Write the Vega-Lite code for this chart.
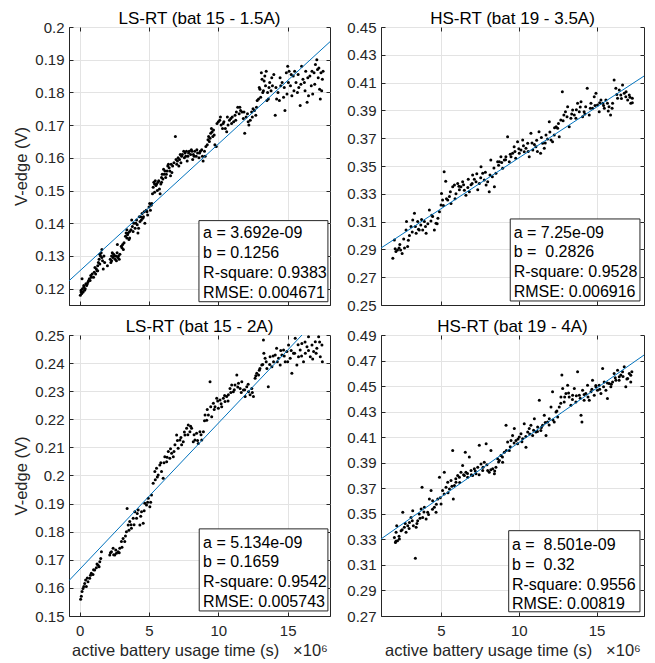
{
"$schema": "https://vega.github.io/schema/vega-lite/v6.json",
"padding": {"left": 13, "top": 9, "right": 8, "bottom": 1},
"config": {
  "font": "Liberation Sans",
  "view": {"stroke": "#262626", "strokeWidth": 1},
  "axis": {"domainColor": "#262626", "tickColor": "#262626", "labelColor": "#262626", "titleColor": "#262626", "labelFontSize": 15, "titleFontSize": 16.5, "titleFontWeight": "normal", "gridColor": "#e3e3e3", "tickSize": -4, "labelPadding": 9, "labelFlush": false, "labelOverlap": false},
  "axisX": {"labelPadding": 11, "titlePadding": 4},
  "axisY": {"titlePadding": 5},
  "title": {"fontSize": 17, "fontWeight": "normal", "color": "#000000"},
  "text": {"font": "Liberation Sans"}
},
"datasets": {
  "tl": [{"x":0.05,"y":0.118},{"x":0.1,"y":0.119},{"x":0.15,"y":0.1185},{"x":0.2,"y":0.12},{"x":0.25,"y":0.119},{"x":0.3,"y":0.121},{"x":0.35,"y":0.1195},{"x":0.4,"y":0.12},{"x":0.17,"y":0.123},{"x":0.5,"y":0.121},{"x":0.55,"y":0.1215},{"x":0.6,"y":0.122},{"x":0.7,"y":0.123},{"x":0.75,"y":0.1225},{"x":0.8,"y":0.124},{"x":0.9,"y":0.1245},{"x":1.0,"y":0.1235},{"x":1.05,"y":0.125},{"x":1.1,"y":0.1265},{"x":1.2,"y":0.126},{"x":1.25,"y":0.1255},{"x":1.3,"y":0.127},{"x":1.35,"y":0.128},{"x":1.4,"y":0.129},{"x":1.45,"y":0.1275},{"x":1.5,"y":0.13},{"x":1.55,"y":0.131},{"x":1.6,"y":0.132},{"x":1.65,"y":0.1285},{"x":1.7,"y":0.126},{"x":1.75,"y":0.13},{"x":1.8,"y":0.128},{"x":2.0,"y":0.127},{"x":2.2,"y":0.129},{"x":2.25,"y":0.128},{"x":2.3,"y":0.13},{"x":2.35,"y":0.131},{"x":2.4,"y":0.1295},{"x":2.5,"y":0.13},{"x":2.55,"y":0.129},{"x":2.6,"y":0.13},{"x":2.7,"y":0.131},{"x":2.75,"y":0.1295},{"x":2.8,"y":0.13},{"x":2.85,"y":0.129},{"x":2.72,"y":0.1335},{"x":3.0,"y":0.133},{"x":3.05,"y":0.1325},{"x":3.1,"y":0.1335},{"x":3.2,"y":0.134},{"x":3.3,"y":0.136},{"x":3.35,"y":0.137},{"x":3.4,"y":0.138},{"x":3.45,"y":0.1365},{"x":3.5,"y":0.137},{"x":3.55,"y":0.135},{"x":3.6,"y":0.1355},{"x":3.7,"y":0.138},{"x":3.75,"y":0.141},{"x":3.8,"y":0.139},{"x":3.9,"y":0.14},{"x":4.0,"y":0.1385},{"x":4.05,"y":0.14},{"x":4.1,"y":0.141},{"x":4.2,"y":0.137},{"x":4.25,"y":0.1385},{"x":4.3,"y":0.142},{"x":4.4,"y":0.142},{"x":4.45,"y":0.141},{"x":4.5,"y":0.143},{"x":4.55,"y":0.1415},{"x":4.6,"y":0.142},{"x":4.7,"y":0.14},{"x":4.8,"y":0.144},{"x":4.9,"y":0.1425},{"x":5.0,"y":0.145},{"x":5.05,"y":0.146},{"x":5.1,"y":0.144},{"x":5.2,"y":0.146},{"x":5.25,"y":0.149},{"x":5.3,"y":0.151},{"x":5.35,"y":0.1525},{"x":5.4,"y":0.152},{"x":5.45,"y":0.153},{"x":5.5,"y":0.1515},{"x":5.55,"y":0.152},{"x":5.6,"y":0.15},{"x":5.7,"y":0.153},{"x":5.75,"y":0.1505},{"x":5.8,"y":0.149},{"x":5.85,"y":0.152},{"x":5.9,"y":0.154},{"x":5.95,"y":0.155},{"x":6.0,"y":0.1535},{"x":6.1,"y":0.155},{"x":6.15,"y":0.156},{"x":6.2,"y":0.154},{"x":6.3,"y":0.156},{"x":6.4,"y":0.158},{"x":6.45,"y":0.157},{"x":6.5,"y":0.156},{"x":6.55,"y":0.1545},{"x":6.6,"y":0.158},{"x":6.7,"y":0.1575},{"x":6.8,"y":0.1585},{"x":6.9,"y":0.1665},{"x":7.0,"y":0.158},{"x":7.05,"y":0.159},{"x":7.1,"y":0.16},{"x":7.2,"y":0.1595},{"x":7.25,"y":0.161},{"x":7.3,"y":0.1585},{"x":7.4,"y":0.161},{"x":7.5,"y":0.162},{"x":7.55,"y":0.16},{"x":7.6,"y":0.1615},{"x":7.7,"y":0.162},{"x":7.75,"y":0.159},{"x":7.8,"y":0.1605},{"x":7.9,"y":0.162},{"x":8.0,"y":0.161},{"x":8.1,"y":0.162},{"x":8.15,"y":0.1595},{"x":8.2,"y":0.161},{"x":8.3,"y":0.162},{"x":8.4,"y":0.1605},{"x":8.5,"y":0.1615},{"x":8.6,"y":0.16},{"x":8.7,"y":0.162},{"x":8.8,"y":0.1625},{"x":8.9,"y":0.159},{"x":9.0,"y":0.162},{"x":9.1,"y":0.1635},{"x":9.2,"y":0.164},{"x":9.3,"y":0.1665},{"x":9.35,"y":0.165},{"x":9.4,"y":0.166},{"x":9.5,"y":0.169},{"x":9.55,"y":0.168},{"x":9.6,"y":0.1665},{"x":9.7,"y":0.167},{"x":9.75,"y":0.164},{"x":9.85,"y":0.1635},{"x":10.0,"y":0.171},{"x":10.1,"y":0.1715},{"x":10.2,"y":0.17},{"x":10.3,"y":0.169},{"x":10.4,"y":0.171},{"x":10.5,"y":0.169},{"x":10.6,"y":0.168},{"x":10.7,"y":0.17},{"x":10.8,"y":0.1715},{"x":10.9,"y":0.172},{"x":11.0,"y":0.1725},{"x":11.1,"y":0.171},{"x":11.2,"y":0.173},{"x":11.3,"y":0.174},{"x":11.4,"y":0.1755},{"x":11.5,"y":0.1735},{"x":11.6,"y":0.1745},{"x":11.7,"y":0.174},{"x":11.8,"y":0.172},{"x":11.9,"y":0.1675},{"x":12.0,"y":0.1725},{"x":12.1,"y":0.1735},{"x":12.2,"y":0.17},{"x":12.3,"y":0.1715},{"x":12.4,"y":0.174},{"x":12.5,"y":0.175},{"x":12.6,"y":0.1745},{"x":12.7,"y":0.173},{"x":12.8,"y":0.1775},{"x":12.9,"y":0.178},{"x":13.0,"y":0.181},{"x":13.05,"y":0.1785},{"x":13.1,"y":0.186},{"x":13.15,"y":0.184},{"x":13.2,"y":0.18},{"x":13.3,"y":0.1835},{"x":13.35,"y":0.185},{"x":13.4,"y":0.182},{"x":13.5,"y":0.1775},{"x":13.55,"y":0.18},{"x":13.6,"y":0.178},{"x":13.7,"y":0.183},{"x":13.8,"y":0.1805},{"x":13.9,"y":0.182},{"x":14.0,"y":0.1855},{"x":14.1,"y":0.173},{"x":14.2,"y":0.178},{"x":14.3,"y":0.18},{"x":14.4,"y":0.1775},{"x":14.5,"y":0.182},{"x":14.6,"y":0.183},{"x":14.7,"y":0.1785},{"x":14.8,"y":0.1745},{"x":14.9,"y":0.186},{"x":15.0,"y":0.188},{"x":15.05,"y":0.183},{"x":15.1,"y":0.1865},{"x":15.2,"y":0.182},{"x":15.3,"y":0.179},{"x":15.4,"y":0.185},{"x":15.5,"y":0.1865},{"x":15.6,"y":0.183},{"x":15.7,"y":0.18},{"x":15.8,"y":0.1815},{"x":15.9,"y":0.176},{"x":16.0,"y":0.188},{"x":16.1,"y":0.184},{"x":16.2,"y":0.183},{"x":16.3,"y":0.1865},{"x":16.4,"y":0.177},{"x":16.5,"y":0.179},{"x":16.6,"y":0.185},{"x":16.7,"y":0.182},{"x":16.8,"y":0.1795},{"x":16.9,"y":0.186},{"x":17.0,"y":0.1885},{"x":17.1,"y":0.19},{"x":17.15,"y":0.187},{"x":17.2,"y":0.1845},{"x":17.3,"y":0.181},{"x":17.35,"y":0.178},{"x":17.4,"y":0.186},{"x":17.5,"y":0.184},{"x":17.55,"y":0.1865},
  {"x":0.1,"y":0.1195},{"x":0.3,"y":0.1205},{"x":0.45,"y":0.1215},{"x":0.65,"y":0.1225},{"x":0.85,"y":0.1235},{"x":1.15,"y":0.1245},{"x":1.3,"y":0.1255},{"x":1.45,"y":0.1305},{"x":1.6,"y":0.1295},{"x":2.3,"y":0.1285},{"x":2.45,"y":0.1305},{"x":2.65,"y":0.1285},{"x":2.9,"y":0.1305},{"x":3.15,"y":0.132},{"x":3.4,"y":0.1355},{"x":3.6,"y":0.1375},{"x":3.85,"y":0.1375},{"x":4.15,"y":0.1395},{"x":4.35,"y":0.1405},{"x":4.65,"y":0.1435},{"x":4.85,"y":0.1435},{"x":5.15,"y":0.1455},{"x":5.4,"y":0.1495},{"x":5.65,"y":0.1525},{"x":5.9,"y":0.1525},{"x":6.05,"y":0.1565},{"x":6.25,"y":0.155},{"x":6.35,"y":0.1575},{"x":6.65,"y":0.1555},{"x":6.95,"y":0.1595},{"x":7.15,"y":0.1575},{"x":7.35,"y":0.1605},{"x":7.65,"y":0.1605},{"x":7.85,"y":0.1615},{"x":8.05,"y":0.1625},{"x":8.25,"y":0.1605},{"x":8.45,"y":0.1625},{"x":8.65,"y":0.1615},{"x":8.85,"y":0.1605},{"x":9.05,"y":0.1605},{"x":9.25,"y":0.1655},{"x":9.45,"y":0.1675},{"x":9.65,"y":0.1685},{"x":9.9,"y":0.1705},{"x":10.15,"y":0.1725},{"x":10.35,"y":0.1705},{"x":10.65,"y":0.1725},{"x":10.95,"y":0.1705},{"x":11.25,"y":0.1715},{"x":11.55,"y":0.1755},{"x":11.85,"y":0.174},{"x":12.15,"y":0.171},{"x":12.45,"y":0.1725},{"x":12.75,"y":0.1755},{"x":12.95,"y":0.1815},{"x":13.25,"y":0.1805},{"x":13.45,"y":0.1865},{"x":13.65,"y":0.1815},{"x":13.85,"y":0.1845},{"x":14.15,"y":0.1815},{"x":14.45,"y":0.1845},{"x":14.75,"y":0.1815},{"x":14.95,"y":0.1795},{"x":15.25,"y":0.1855},{"x":15.45,"y":0.1805},{"x":15.75,"y":0.1855},{"x":15.95,"y":0.1825},{"x":16.25,"y":0.1805},{"x":16.45,"y":0.1845},{"x":16.75,"y":0.1865},{"x":16.95,"y":0.1825},{"x":17.25,"y":0.1875},{"x":17.45,"y":0.1805}],
  "tr": [{"x":1.9,"y":0.2836},{"x":2.0,"y":0.2968},{"x":2.1,"y":0.2884},{"x":2.2,"y":0.2896},{"x":2.3,"y":0.291},{"x":2.4,"y":0.2895},{"x":2.5,"y":0.287},{"x":2.65,"y":0.291},{"x":2.75,"y":0.304},{"x":2.85,"y":0.292},{"x":2.97,"y":0.3},{"x":2.78,"y":0.31},{"x":3.07,"y":0.3064},{"x":3.18,"y":0.3111},{"x":3.29,"y":0.316},{"x":3.4,"y":0.3016},{"x":3.5,"y":0.31},{"x":3.6,"y":0.304},{"x":3.7,"y":0.3075},{"x":3.82,"y":0.304},{"x":3.93,"y":0.31},{"x":4.04,"y":0.3016},{"x":4.15,"y":0.3085},{"x":4.25,"y":0.3183},{"x":4.35,"y":0.3105},{"x":4.46,"y":0.3136},{"x":4.57,"y":0.304},{"x":4.68,"y":0.3088},{"x":4.8,"y":0.3125},{"x":4.9,"y":0.3171},{"x":5.0,"y":0.3219},{"x":5.03,"y":0.3303},{"x":5.1,"y":0.3255},{"x":5.2,"y":0.3459},{"x":5.3,"y":0.339},{"x":5.43,"y":0.3255},{"x":5.54,"y":0.328},{"x":5.64,"y":0.3231},{"x":5.75,"y":0.335},{"x":5.86,"y":0.3363},{"x":5.96,"y":0.33},{"x":6.07,"y":0.3375},{"x":6.18,"y":0.333},{"x":6.28,"y":0.335},{"x":6.39,"y":0.3387},{"x":6.5,"y":0.3325},{"x":6.6,"y":0.329},{"x":6.72,"y":0.3345},{"x":6.82,"y":0.3315},{"x":6.93,"y":0.3365},{"x":7.03,"y":0.3435},{"x":7.14,"y":0.3405},{"x":7.25,"y":0.3387},{"x":7.36,"y":0.333},{"x":7.46,"y":0.3375},{"x":7.57,"y":0.3495},{"x":7.68,"y":0.3447},{"x":7.78,"y":0.34},{"x":7.9,"y":0.3363},{"x":8.0,"y":0.3387},{"x":8.1,"y":0.3315},{"x":8.2,"y":0.3543},{"x":8.3,"y":0.3423},{"x":8.43,"y":0.335},{"x":8.53,"y":0.3447},{"x":8.64,"y":0.3531},{"x":8.75,"y":0.3531},{"x":8.85,"y":0.3567},{"x":8.96,"y":0.3483},{"x":9.07,"y":0.3543},{"x":9.17,"y":0.3567},{"x":9.28,"y":0.3711},{"x":9.39,"y":0.3531},{"x":9.5,"y":0.3567},{"x":9.6,"y":0.3591},{"x":9.7,"y":0.3639},{"x":9.8,"y":0.3555},{"x":9.92,"y":0.3675},{"x":10.03,"y":0.3591},{"x":10.14,"y":0.3615},{"x":10.25,"y":0.3687},{"x":10.35,"y":0.3603},{"x":10.46,"y":0.3627},{"x":10.57,"y":0.3663},{"x":10.67,"y":0.3567},{"x":10.78,"y":0.3735},{"x":10.9,"y":0.3615},{"x":11.0,"y":0.3655},{"x":11.1,"y":0.3639},{"x":11.2,"y":0.3605},{"x":11.3,"y":0.3747},{"x":11.4,"y":0.3591},{"x":11.53,"y":0.3663},{"x":11.64,"y":0.3627},{"x":11.75,"y":0.3723},{"x":11.85,"y":0.3695},{"x":11.96,"y":0.3819},{"x":12.07,"y":0.3687},{"x":12.17,"y":0.3675},{"x":12.28,"y":0.3723},{"x":12.4,"y":0.3783},{"x":12.5,"y":0.3771},{"x":12.6,"y":0.3711},{"x":12.7,"y":0.3831},{"x":12.8,"y":0.4035},{"x":12.9,"y":0.3867},{"x":13.0,"y":0.3891},{"x":13.14,"y":0.3927},{"x":13.24,"y":0.3783},{"x":13.35,"y":0.3843},{"x":13.46,"y":0.3903},{"x":13.57,"y":0.3867},{"x":13.67,"y":0.3843},{"x":13.78,"y":0.3951},{"x":13.89,"y":0.3891},{"x":14.0,"y":0.3963},{"x":14.1,"y":0.3855},{"x":14.2,"y":0.3891},{"x":14.3,"y":0.3927},{"x":14.4,"y":0.4059},{"x":14.53,"y":0.3867},{"x":14.64,"y":0.3951},{"x":14.74,"y":0.3915},{"x":14.85,"y":0.3999},{"x":14.96,"y":0.4023},{"x":15.06,"y":0.3939},{"x":15.17,"y":0.3891},{"x":15.28,"y":0.3975},{"x":15.4,"y":0.3951},{"x":15.5,"y":0.3915},{"x":15.6,"y":0.3975},{"x":15.7,"y":0.3951},{"x":15.8,"y":0.3927},{"x":15.9,"y":0.3867},{"x":16.03,"y":0.3951},{"x":16.13,"y":0.4119},{"x":16.24,"y":0.4059},{"x":16.35,"y":0.3987},{"x":16.46,"y":0.4047},{"x":16.56,"y":0.4011},{"x":16.67,"y":0.4083},{"x":16.78,"y":0.4023},{"x":16.88,"y":0.3999},{"x":17.0,"y":0.3975},{"x":17.1,"y":0.4011},{"x":17.2,"y":0.3951},{"x":17.3,"y":0.3987},
  {"x":2.05,"y":0.2905},{"x":2.35,"y":0.2935},{"x":2.6,"y":0.2975},{"x":2.9,"y":0.2965},{"x":3.15,"y":0.3025},{"x":3.35,"y":0.3065},{"x":3.55,"y":0.3045},{"x":3.75,"y":0.3115},{"x":4.0,"y":0.3065},{"x":4.4,"y":0.3145},{"x":4.75,"y":0.3085},{"x":5.15,"y":0.3215},{"x":5.35,"y":0.3265},{"x":5.6,"y":0.3315},{"x":5.9,"y":0.3265},{"x":6.15,"y":0.3355},{"x":6.45,"y":0.3365},{"x":6.75,"y":0.3405},{"x":7.0,"y":0.3375},{"x":7.3,"y":0.3445},{"x":7.55,"y":0.3415},{"x":7.85,"y":0.3455},{"x":8.15,"y":0.3435},{"x":8.4,"y":0.3485},{"x":8.7,"y":0.3505},{"x":8.9,"y":0.3525},{"x":9.15,"y":0.3545},{"x":9.45,"y":0.3585},{"x":9.75,"y":0.3605},{"x":10.0,"y":0.3625},{"x":10.3,"y":0.3645},{"x":10.6,"y":0.3605},{"x":10.85,"y":0.3665},{"x":11.15,"y":0.3685},{"x":11.45,"y":0.3705},{"x":11.7,"y":0.3665},{"x":12.0,"y":0.3745},{"x":12.3,"y":0.3775},{"x":12.55,"y":0.3805},{"x":12.85,"y":0.3825},{"x":13.1,"y":0.3855},{"x":13.4,"y":0.3875},{"x":13.7,"y":0.3905},{"x":13.95,"y":0.3925},{"x":14.25,"y":0.3875},{"x":14.6,"y":0.3915},{"x":14.9,"y":0.3935},{"x":15.2,"y":0.3955},{"x":15.45,"y":0.3935},{"x":15.75,"y":0.3895},{"x":16.0,"y":0.3915},{"x":16.3,"y":0.4015},{"x":16.6,"y":0.3985},{"x":16.9,"y":0.4035},{"x":17.15,"y":0.3995},{"x":17.3,"y":0.3955}],
  "bl": [{"x":0.07,"y":0.156},{"x":0.17,"y":0.1587},{"x":0.24,"y":0.1598},{"x":0.36,"y":0.1616},{"x":0.48,"y":0.1605},{"x":0.43,"y":0.1628},{"x":0.6,"y":0.1622},{"x":0.72,"y":0.1634},{"x":0.84,"y":0.1652},{"x":0.96,"y":0.1648},{"x":1.08,"y":0.1664},{"x":1.2,"y":0.1672},{"x":1.33,"y":0.1681},{"x":1.45,"y":0.1693},{"x":1.57,"y":0.1729},{"x":1.52,"y":0.1705},{"x":2.17,"y":0.1717},{"x":2.29,"y":0.1729},{"x":2.41,"y":0.1741},{"x":2.53,"y":0.1717},{"x":2.65,"y":0.1723},{"x":2.77,"y":0.1729},{"x":2.89,"y":0.1741},{"x":3.01,"y":0.1765},{"x":3.13,"y":0.1776},{"x":3.25,"y":0.1765},{"x":3.37,"y":0.18},{"x":3.42,"y":0.1883},{"x":3.5,"y":0.1824},{"x":3.61,"y":0.1836},{"x":3.73,"y":0.1812},{"x":3.86,"y":0.1848},{"x":3.98,"y":0.1871},{"x":4.1,"y":0.1848},{"x":4.22,"y":0.1877},{"x":4.34,"y":0.1824},{"x":4.46,"y":0.1871},{"x":4.58,"y":0.183},{"x":4.7,"y":0.1901},{"x":4.82,"y":0.1895},{"x":4.94,"y":0.1919},{"x":5.06,"y":0.1889},{"x":5.18,"y":0.1931},{"x":5.3,"y":0.1972},{"x":5.42,"y":0.2014},{"x":5.54,"y":0.2026},{"x":5.66,"y":0.2002},{"x":5.78,"y":0.2037},{"x":5.9,"y":0.2014},{"x":6.02,"y":0.199},{"x":6.14,"y":0.2067},{"x":6.27,"y":0.2049},{"x":6.39,"y":0.2085},{"x":6.5,"y":0.2061},{"x":6.63,"y":0.2079},{"x":6.75,"y":0.2067},{"x":6.87,"y":0.2109},{"x":6.99,"y":0.2144},{"x":7.1,"y":0.2097},{"x":7.23,"y":0.2126},{"x":7.35,"y":0.2109},{"x":7.47,"y":0.212},{"x":7.59,"y":0.2144},{"x":7.71,"y":0.2168},{"x":7.83,"y":0.218},{"x":7.95,"y":0.2156},{"x":8.07,"y":0.2168},{"x":8.19,"y":0.212},{"x":8.31,"y":0.2126},{"x":8.43,"y":0.215},{"x":8.55,"y":0.2114},{"x":8.67,"y":0.2156},{"x":8.8,"y":0.2126},{"x":8.92,"y":0.2156},{"x":9.04,"y":0.2215},{"x":9.16,"y":0.2197},{"x":9.28,"y":0.2215},{"x":9.4,"y":0.2334},{"x":9.52,"y":0.2209},{"x":9.64,"y":0.2257},{"x":9.76,"y":0.2245},{"x":9.88,"y":0.2275},{"x":10.0,"y":0.2239},{"x":10.12,"y":0.2269},{"x":10.24,"y":0.2245},{"x":10.36,"y":0.2275},{"x":10.48,"y":0.2263},{"x":10.6,"y":0.2281},{"x":10.72,"y":0.2287},{"x":10.84,"y":0.231},{"x":10.96,"y":0.2322},{"x":11.08,"y":0.2298},{"x":11.2,"y":0.2322},{"x":11.33,"y":0.2358},{"x":11.45,"y":0.2328},{"x":11.57,"y":0.231},{"x":11.69,"y":0.2334},{"x":11.81,"y":0.2304},{"x":11.93,"y":0.2281},{"x":12.05,"y":0.2316},{"x":12.17,"y":0.2298},{"x":12.29,"y":0.2287},{"x":12.41,"y":0.231},{"x":12.53,"y":0.2281},{"x":12.65,"y":0.2346},{"x":12.77,"y":0.2364},{"x":12.9,"y":0.2358},{"x":13.0,"y":0.2381},{"x":13.13,"y":0.2393},{"x":13.25,"y":0.2482},{"x":13.28,"y":0.2435},{"x":13.37,"y":0.2417},{"x":13.5,"y":0.2381},{"x":13.6,"y":0.2316},{"x":13.73,"y":0.2423},{"x":13.86,"y":0.2387},{"x":13.98,"y":0.2405},{"x":14.1,"y":0.2429},{"x":14.2,"y":0.2453},{"x":14.34,"y":0.2417},{"x":14.46,"y":0.2393},{"x":14.58,"y":0.2429},{"x":14.7,"y":0.2447},{"x":14.82,"y":0.2405},{"x":14.94,"y":0.2441},{"x":15.06,"y":0.2464},{"x":15.18,"y":0.2417},{"x":15.3,"y":0.2364},{"x":15.42,"y":0.2435},{"x":15.54,"y":0.2488},{"x":15.66,"y":0.2393},{"x":15.78,"y":0.2423},{"x":15.9,"y":0.2447},{"x":16.02,"y":0.247},{"x":16.14,"y":0.2405},{"x":16.27,"y":0.2435},{"x":16.39,"y":0.2458},{"x":16.5,"y":0.2494},{"x":16.63,"y":0.2423},{"x":16.75,"y":0.2464},{"x":16.87,"y":0.2441},{"x":16.99,"y":0.2476},{"x":17.1,"y":0.2453},{"x":17.23,"y":0.2494},{"x":17.35,"y":0.2423},{"x":17.47,"y":0.2464},{"x":17.5,"y":0.2405},
  {"x":0.12,"y":0.157},{"x":0.3,"y":0.1605},{"x":0.55,"y":0.1635},{"x":0.78,"y":0.1645},{"x":1.0,"y":0.1665},{"x":1.25,"y":0.1685},{"x":1.4,"y":0.1675},{"x":2.22,"y":0.1725},{"x":2.45,"y":0.1718},{"x":2.6,"y":0.1735},{"x":2.85,"y":0.1725},{"x":3.05,"y":0.1745},{"x":3.3,"y":0.1785},{"x":3.55,"y":0.1805},{"x":3.7,"y":0.1825},{"x":3.92,"y":0.1825},{"x":4.15,"y":0.1865},{"x":4.4,"y":0.1855},{"x":4.65,"y":0.1875},{"x":4.9,"y":0.1905},{"x":5.12,"y":0.1905},{"x":5.45,"y":0.1985},{"x":5.6,"y":0.1995},{"x":5.85,"y":0.2045},{"x":6.08,"y":0.2045},{"x":6.3,"y":0.2065},{"x":6.55,"y":0.2095},{"x":6.8,"y":0.2085},{"x":7.05,"y":0.2125},{"x":7.3,"y":0.2135},{"x":7.55,"y":0.2155},{"x":7.8,"y":0.2145},{"x":8.0,"y":0.2175},{"x":8.25,"y":0.2145},{"x":8.5,"y":0.2125},{"x":8.75,"y":0.2145},{"x":9.0,"y":0.2195},{"x":9.2,"y":0.2235},{"x":9.45,"y":0.2245},{"x":9.7,"y":0.2235},{"x":9.95,"y":0.2265},{"x":10.2,"y":0.2255},{"x":10.45,"y":0.2285},{"x":10.7,"y":0.2265},{"x":10.9,"y":0.2295},{"x":11.15,"y":0.2305},{"x":11.4,"y":0.2315},{"x":11.65,"y":0.2295},{"x":11.9,"y":0.2305},{"x":12.15,"y":0.2325},{"x":12.45,"y":0.2295},{"x":12.7,"y":0.2355},{"x":12.95,"y":0.2375},{"x":13.2,"y":0.2395},{"x":13.45,"y":0.2405},{"x":13.7,"y":0.2395},{"x":13.95,"y":0.2425},{"x":14.25,"y":0.2405},{"x":14.5,"y":0.2445},{"x":14.75,"y":0.2425},{"x":15.0,"y":0.2405},{"x":15.25,"y":0.2445},{"x":15.5,"y":0.2435},{"x":15.75,"y":0.2465},{"x":16.0,"y":0.2425},{"x":16.25,"y":0.2475},{"x":16.5,"y":0.2445},{"x":16.8,"y":0.2415},{"x":17.05,"y":0.2435},{"x":17.3,"y":0.2475}],
  "br": [{"x":2.0,"y":0.3315},{"x":2.07,"y":0.3276},{"x":2.11,"y":0.3355},{"x":2.15,"y":0.3407},{"x":2.2,"y":0.3289},{"x":2.32,"y":0.3302},{"x":2.43,"y":0.3368},{"x":2.54,"y":0.3512},{"x":2.64,"y":0.3394},{"x":2.75,"y":0.3355},{"x":2.86,"y":0.3407},{"x":2.97,"y":0.3433},{"x":3.07,"y":0.3472},{"x":3.18,"y":0.3525},{"x":3.22,"y":0.3407},{"x":3.35,"y":0.3153},{"x":3.4,"y":0.3394},{"x":3.5,"y":0.3446},{"x":3.6,"y":0.3499},{"x":3.72,"y":0.3538},{"x":3.78,"y":0.3708},{"x":3.82,"y":0.3472},{"x":3.93,"y":0.3551},{"x":4.04,"y":0.346},{"x":4.14,"y":0.3512},{"x":4.25,"y":0.3616},{"x":4.36,"y":0.3682},{"x":4.46,"y":0.3603},{"x":4.57,"y":0.3551},{"x":4.68,"y":0.3512},{"x":4.79,"y":0.3616},{"x":4.9,"y":0.3787},{"x":5.0,"y":0.3577},{"x":5.1,"y":0.3682},{"x":5.21,"y":0.3826},{"x":5.32,"y":0.3708},{"x":5.43,"y":0.3747},{"x":5.54,"y":0.3695},{"x":5.64,"y":0.376},{"x":5.75,"y":0.3996},{"x":5.79,"y":0.3616},{"x":5.86,"y":0.3721},{"x":5.96,"y":0.3747},{"x":6.07,"y":0.38},{"x":6.18,"y":0.3787},{"x":6.28,"y":0.3826},{"x":6.39,"y":0.3878},{"x":6.5,"y":0.38},{"x":6.56,"y":0.3983},{"x":6.6,"y":0.3826},{"x":6.71,"y":0.3787},{"x":6.82,"y":0.3944},{"x":6.93,"y":0.3839},{"x":7.03,"y":0.38},{"x":7.14,"y":0.3852},{"x":7.25,"y":0.3813},{"x":7.36,"y":0.3865},{"x":7.46,"y":0.4036},{"x":7.57,"y":0.3891},{"x":7.68,"y":0.3839},{"x":7.78,"y":0.3904},{"x":7.9,"y":0.4049},{"x":8.0,"y":0.3839},{"x":8.1,"y":0.3826},{"x":8.21,"y":0.3996},{"x":8.32,"y":0.3852},{"x":8.43,"y":0.3813},{"x":8.53,"y":0.3865},{"x":8.64,"y":0.3931},{"x":8.75,"y":0.3918},{"x":8.85,"y":0.3957},{"x":8.96,"y":0.3904},{"x":9.07,"y":0.3983},{"x":9.18,"y":0.4193},{"x":9.28,"y":0.4062},{"x":9.39,"y":0.3996},{"x":9.5,"y":0.4075},{"x":9.6,"y":0.4114},{"x":9.71,"y":0.4167},{"x":9.82,"y":0.4075},{"x":9.92,"y":0.4049},{"x":10.03,"y":0.4101},{"x":10.14,"y":0.4127},{"x":10.25,"y":0.4088},{"x":10.35,"y":0.4206},{"x":10.46,"y":0.4022},{"x":10.57,"y":0.414},{"x":10.67,"y":0.4167},{"x":10.78,"y":0.4193},{"x":10.89,"y":0.4114},{"x":11.0,"y":0.4245},{"x":11.1,"y":0.414},{"x":11.21,"y":0.418},{"x":11.32,"y":0.4389},{"x":11.42,"y":0.4153},{"x":11.53,"y":0.4193},{"x":11.64,"y":0.4272},{"x":11.75,"y":0.4114},{"x":11.85,"y":0.4219},{"x":11.96,"y":0.4245},{"x":12.07,"y":0.4337},{"x":12.17,"y":0.4455},{"x":12.28,"y":0.4219},{"x":12.39,"y":0.4297},{"x":12.5,"y":0.4258},{"x":12.6,"y":0.4337},{"x":12.71,"y":0.4415},{"x":12.77,"y":0.4586},{"x":12.82,"y":0.4481},{"x":12.92,"y":0.4376},{"x":13.03,"y":0.4442},{"x":13.14,"y":0.4507},{"x":13.24,"y":0.4415},{"x":13.35,"y":0.435},{"x":13.46,"y":0.4428},{"x":13.57,"y":0.4481},{"x":13.67,"y":0.4376},{"x":13.78,"y":0.4612},{"x":13.89,"y":0.4428},{"x":14.0,"y":0.4272},{"x":14.06,"y":0.4219},{"x":14.1,"y":0.4468},{"x":14.2,"y":0.4389},{"x":14.31,"y":0.4442},{"x":14.42,"y":0.4507},{"x":14.53,"y":0.4389},{"x":14.64,"y":0.4455},{"x":14.74,"y":0.4546},{"x":14.85,"y":0.4428},{"x":14.96,"y":0.4494},{"x":15.06,"y":0.4468},{"x":15.17,"y":0.4507},{"x":15.28,"y":0.4442},{"x":15.39,"y":0.4638},{"x":15.49,"y":0.4533},{"x":15.6,"y":0.4468},{"x":15.7,"y":0.4402},{"x":15.81,"y":0.452},{"x":15.92,"y":0.4494},{"x":16.03,"y":0.4533},{"x":16.13,"y":0.4599},{"x":16.24,"y":0.4546},{"x":16.35,"y":0.4625},{"x":16.46,"y":0.4573},{"x":16.56,"y":0.4586},{"x":16.67,"y":0.4612},{"x":16.78,"y":0.4651},{"x":16.88,"y":0.4494},{"x":17.0,"y":0.4559},{"x":17.1,"y":0.4599},{"x":17.2,"y":0.4533},{"x":17.27,"y":0.4612},
  {"x":2.1,"y":0.3285},{"x":2.3,"y":0.3325},{"x":2.5,"y":0.3375},{"x":2.7,"y":0.3425},{"x":2.95,"y":0.3385},{"x":3.15,"y":0.3445},{"x":3.45,"y":0.3425},{"x":3.65,"y":0.3465},{"x":3.9,"y":0.3515},{"x":4.2,"y":0.3495},{"x":4.45,"y":0.3535},{"x":4.7,"y":0.3575},{"x":4.95,"y":0.3625},{"x":5.2,"y":0.3655},{"x":5.45,"y":0.3665},{"x":5.7,"y":0.3715},{"x":5.95,"y":0.3775},{"x":6.2,"y":0.3745},{"x":6.45,"y":0.3805},{"x":6.7,"y":0.3815},{"x":6.95,"y":0.3805},{"x":7.2,"y":0.3835},{"x":7.45,"y":0.3805},{"x":7.7,"y":0.3865},{"x":7.95,"y":0.3885},{"x":8.2,"y":0.3845},{"x":8.45,"y":0.3835},{"x":8.7,"y":0.3905},{"x":8.95,"y":0.3945},{"x":9.2,"y":0.3995},{"x":9.45,"y":0.4025},{"x":9.7,"y":0.4055},{"x":9.95,"y":0.4085},{"x":10.2,"y":0.4065},{"x":10.45,"y":0.4105},{"x":10.7,"y":0.4125},{"x":10.95,"y":0.4155},{"x":11.2,"y":0.4145},{"x":11.45,"y":0.4175},{"x":11.7,"y":0.4215},{"x":11.95,"y":0.4195},{"x":12.2,"y":0.4235},{"x":12.45,"y":0.4305},{"x":12.7,"y":0.4365},{"x":12.95,"y":0.4415},{"x":13.2,"y":0.4445},{"x":13.45,"y":0.4395},{"x":13.7,"y":0.4425},{"x":13.95,"y":0.4405},{"x":14.2,"y":0.4435},{"x":14.45,"y":0.4415},{"x":14.7,"y":0.4475},{"x":14.95,"y":0.4505},{"x":15.2,"y":0.4475},{"x":15.45,"y":0.4495},{"x":15.7,"y":0.4525},{"x":15.95,"y":0.4515},{"x":16.2,"y":0.4565},{"x":16.45,"y":0.4545},{"x":16.7,"y":0.4575},{"x":16.95,"y":0.4555},{"x":17.2,"y":0.4585}],
  "tlfit": [{"x":-0.77,"y":0.1224},{"x":18.05,"y":0.1955}],
  "trfit": [{"x":1.14,"y":0.291},{"x":18.05,"y":0.4147}],
  "blfit": [{"x":-0.77,"y":0.1626},{"x":16.03,"y":0.25}],
  "brfit": [{"x":1.14,"y":0.3303},{"x":18.05,"y":0.4743}],
  "tlbox": [{"x":8.6,"x2":17.9,"y":0.1408,"y2":0.116}],
  "trbox": [{"x":9.45,"x2":17.79,"y":0.3119,"y2":0.2529}],
  "blbox": [{"x":8.62,"x2":17.9,"y":0.181,"y2":0.1518}],
  "brbox": [{"x":9.35,"x2":17.79,"y":0.3368,"y2":0.2733}],
  "tltxt": [{"x":8.9,"y":0.1371,"t":"a = 3.692e-09"},{"x":8.9,"y":0.131,"t":"b = 0.1256"},{"x":8.9,"y":0.1249,"t":"R-square: 0.9383"},{"x":8.9,"y":0.1188,"t":"RMSE: 0.004671"}],
  "trtxt": [{"x":9.67,"y":0.3016,"t":"a = 7.25e-09"},{"x":9.67,"y":0.2879,"t":"b =\u00a0 0.2826"},{"x":9.67,"y":0.274,"t":"R-square: 0.9528"},{"x":9.67,"y":0.2596,"t":"RMSE: 0.006916"}],
  "bltxt": [{"x":8.9,"y":0.1759,"t":"a = 5.134e-09"},{"x":8.9,"y":0.1691,"t":"b = 0.1659"},{"x":8.9,"y":0.1622,"t":"R-square: 0.9542"},{"x":8.9,"y":0.1551,"t":"RMSE: 0.005743"}],
  "brtxt": [{"x":9.56,"y":0.3255,"t":"a =\u00a0 8.501e-09"},{"x":9.56,"y":0.3098,"t":"b =\u00a0 0.32"},{"x":9.56,"y":0.2943,"t":"R-square: 0.9556"},{"x":9.56,"y":0.2796,"t":"RMSE: 0.00819"}]
},
"columns": 2,
"bounds": "flush",
"spacing": {"row": 30, "column": 51},
"concat": [
  {
    "width": 261, "height": 278,
    "title": {"text": "LS-RT (bat 15 - 1.5A)", "fontWeight": "normal", "offset": -8},
    "resolve": {"axis": {"x": "independent", "y": "independent"}},
    "layer": [
      {"data": {"name": "tl"}, "mark": {"type": "circle", "size": 9, "color": "#000000", "opacity": 1},
       "encoding": {
        "x": {"field": "x", "type": "quantitative", "scale": {"domain": [-0.77, 18.05], "nice": false, "zero": false}, "axis": {"orient": "bottom", "values": [0, 5, 10, 15], "labels": false, "title": null, "grid": true}},
        "y": {"field": "y", "type": "quantitative", "scale": {"domain": [0.115, 0.2], "nice": false, "zero": false}, "axis": {"orient": "left", "values": [0.12, 0.13, 0.14, 0.15, 0.16, 0.17, 0.18, 0.19, 0.2], "format": ".2~f", "title": "V-edge (V)", "grid": true}}
       }},
      {"data": {"name": "tlfit"}, "mark": {"type": "line", "color": "#0072BD", "strokeWidth": 1, "clip": true},
       "encoding": {
        "x": {"field": "x", "type": "quantitative", "scale": {"domain": [-0.77, 18.05], "nice": false, "zero": false}, "axis": {"orient": "top", "values": [0, 5, 10, 15], "labels": false, "title": null, "grid": false, "domain": false}},
        "y": {"field": "y", "type": "quantitative", "scale": {"domain": [0.115, 0.2], "nice": false, "zero": false}, "axis": {"orient": "right", "values": [0.12, 0.13, 0.14, 0.15, 0.16, 0.17, 0.18, 0.19, 0.2], "labels": false, "title": null, "grid": false, "domain": false}}
       }},
      {"data": {"name": "tlbox"}, "mark": {"type": "rect", "fill": "#ffffff", "stroke": "#262626", "strokeWidth": 1},
       "encoding": {
        "x": {"field": "x", "type": "quantitative", "scale": {"domain": [-0.77, 18.05], "nice": false, "zero": false}, "axis": null},
        "x2": {"field": "x2"},
        "y": {"field": "y", "type": "quantitative", "scale": {"domain": [0.115, 0.2], "nice": false, "zero": false}, "axis": null},
        "y2": {"field": "y2"}
       }},
      {"data": {"name": "tltxt"}, "mark": {"type": "text", "align": "left", "baseline": "middle", "fontSize": 16, "color": "#000000"},
       "encoding": {
        "x": {"field": "x", "type": "quantitative", "scale": {"domain": [-0.77, 18.05], "nice": false, "zero": false}, "axis": null},
        "y": {"field": "y", "type": "quantitative", "scale": {"domain": [0.115, 0.2], "nice": false, "zero": false}, "axis": null},
        "text": {"field": "t"}
       }}
    ]
  },
  {
    "width": 263, "height": 278,
    "title": {"text": "HS-RT (bat 19 - 3.5A)", "fontWeight": "normal", "offset": -8},
    "resolve": {"axis": {"x": "independent", "y": "independent"}},
    "layer": [
      {"data": {"name": "tr"}, "mark": {"type": "circle", "size": 9, "color": "#000000", "opacity": 1},
       "encoding": {
        "x": {"field": "x", "type": "quantitative", "scale": {"domain": [1.14, 18.05], "nice": false, "zero": false}, "axis": {"orient": "bottom", "values": [5, 10, 15], "labels": false, "title": null, "grid": true}},
        "y": {"field": "y", "type": "quantitative", "scale": {"domain": [0.25, 0.45], "nice": false, "zero": false}, "axis": {"orient": "left", "values": [0.25, 0.27, 0.29, 0.31, 0.33, 0.35, 0.37, 0.39, 0.41, 0.43, 0.45], "format": ".2~f", "title": null, "grid": true}}
       }},
      {"data": {"name": "trfit"}, "mark": {"type": "line", "color": "#0072BD", "strokeWidth": 1, "clip": true},
       "encoding": {
        "x": {"field": "x", "type": "quantitative", "scale": {"domain": [1.14, 18.05], "nice": false, "zero": false}, "axis": {"orient": "top", "values": [5, 10, 15], "labels": false, "title": null, "grid": false, "domain": false}},
        "y": {"field": "y", "type": "quantitative", "scale": {"domain": [0.25, 0.45], "nice": false, "zero": false}, "axis": {"orient": "right", "values": [0.25, 0.27, 0.29, 0.31, 0.33, 0.35, 0.37, 0.39, 0.41, 0.43, 0.45], "labels": false, "title": null, "grid": false, "domain": false}}
       }},
      {"data": {"name": "trbox"}, "mark": {"type": "rect", "fill": "#ffffff", "stroke": "#262626", "strokeWidth": 1},
       "encoding": {
        "x": {"field": "x", "type": "quantitative", "scale": {"domain": [1.14, 18.05], "nice": false, "zero": false}, "axis": null},
        "x2": {"field": "x2"},
        "y": {"field": "y", "type": "quantitative", "scale": {"domain": [0.25, 0.45], "nice": false, "zero": false}, "axis": null},
        "y2": {"field": "y2"}
       }},
      {"data": {"name": "trtxt"}, "mark": {"type": "text", "align": "left", "baseline": "middle", "fontSize": 16, "color": "#000000"},
       "encoding": {
        "x": {"field": "x", "type": "quantitative", "scale": {"domain": [1.14, 18.05], "nice": false, "zero": false}, "axis": null},
        "y": {"field": "y", "type": "quantitative", "scale": {"domain": [0.25, 0.45], "nice": false, "zero": false}, "axis": null},
        "text": {"field": "t"}
       }}
    ]
  },
  {
    "width": 261, "height": 281,
    "title": {"text": "LS-RT (bat 15 - 2A)", "fontWeight": "normal", "offset": -8},
    "resolve": {"axis": {"x": "independent", "y": "independent"}},
    "layer": [
      {"data": {"name": "bl"}, "mark": {"type": "circle", "size": 9, "color": "#000000", "opacity": 1},
       "encoding": {
        "x": {"field": "x", "type": "quantitative", "scale": {"domain": [-0.77, 18.05], "nice": false, "zero": false}, "axis": {"orient": "bottom", "values": [0, 5, 10, 15], "format": "d", "title": "active battery usage time (s) \u00a0\u00a0×10⁶", "grid": true}},
        "y": {"field": "y", "type": "quantitative", "scale": {"domain": [0.15, 0.25], "nice": false, "zero": false}, "axis": {"orient": "left", "values": [0.15, 0.16, 0.17, 0.18, 0.19, 0.2, 0.21, 0.22, 0.23, 0.24, 0.25], "format": ".2~f", "title": "V-edge (V)", "grid": true}}
       }},
      {"data": {"name": "blfit"}, "mark": {"type": "line", "color": "#0072BD", "strokeWidth": 1, "clip": true},
       "encoding": {
        "x": {"field": "x", "type": "quantitative", "scale": {"domain": [-0.77, 18.05], "nice": false, "zero": false}, "axis": {"orient": "top", "values": [0, 5, 10, 15], "labels": false, "title": null, "grid": false, "domain": false}},
        "y": {"field": "y", "type": "quantitative", "scale": {"domain": [0.15, 0.25], "nice": false, "zero": false}, "axis": {"orient": "right", "values": [0.15, 0.16, 0.17, 0.18, 0.19, 0.2, 0.21, 0.22, 0.23, 0.24, 0.25], "labels": false, "title": null, "grid": false, "domain": false}}
       }},
      {"data": {"name": "blbox"}, "mark": {"type": "rect", "fill": "#ffffff", "stroke": "#262626", "strokeWidth": 1},
       "encoding": {
        "x": {"field": "x", "type": "quantitative", "scale": {"domain": [-0.77, 18.05], "nice": false, "zero": false}, "axis": null},
        "x2": {"field": "x2"},
        "y": {"field": "y", "type": "quantitative", "scale": {"domain": [0.15, 0.25], "nice": false, "zero": false}, "axis": null},
        "y2": {"field": "y2"}
       }},
      {"data": {"name": "bltxt"}, "mark": {"type": "text", "align": "left", "baseline": "middle", "fontSize": 16, "color": "#000000"},
       "encoding": {
        "x": {"field": "x", "type": "quantitative", "scale": {"domain": [-0.77, 18.05], "nice": false, "zero": false}, "axis": null},
        "y": {"field": "y", "type": "quantitative", "scale": {"domain": [0.15, 0.25], "nice": false, "zero": false}, "axis": null},
        "text": {"field": "t"}
       }}
    ]
  },
  {
    "width": 263, "height": 281,
    "title": {"text": "HS-RT (bat 19 - 4A)", "fontWeight": "normal", "offset": -8},
    "resolve": {"axis": {"x": "independent", "y": "independent"}},
    "layer": [
      {"data": {"name": "br"}, "mark": {"type": "circle", "size": 9, "color": "#000000", "opacity": 1},
       "encoding": {
        "x": {"field": "x", "type": "quantitative", "scale": {"domain": [1.14, 18.05], "nice": false, "zero": false}, "axis": {"orient": "bottom", "values": [5, 10, 15], "format": "d", "title": "active battery usage time (s) \u00a0\u00a0×10⁶", "grid": true}},
        "y": {"field": "y", "type": "quantitative", "scale": {"domain": [0.27, 0.49], "nice": false, "zero": false}, "axis": {"orient": "left", "values": [0.27, 0.29, 0.31, 0.33, 0.35, 0.37, 0.39, 0.41, 0.43, 0.45, 0.47, 0.49], "format": ".2~f", "title": null, "grid": true}}
       }},
      {"data": {"name": "brfit"}, "mark": {"type": "line", "color": "#0072BD", "strokeWidth": 1, "clip": true},
       "encoding": {
        "x": {"field": "x", "type": "quantitative", "scale": {"domain": [1.14, 18.05], "nice": false, "zero": false}, "axis": {"orient": "top", "values": [5, 10, 15], "labels": false, "title": null, "grid": false, "domain": false}},
        "y": {"field": "y", "type": "quantitative", "scale": {"domain": [0.27, 0.49], "nice": false, "zero": false}, "axis": {"orient": "right", "values": [0.27, 0.29, 0.31, 0.33, 0.35, 0.37, 0.39, 0.41, 0.43, 0.45, 0.47, 0.49], "labels": false, "title": null, "grid": false, "domain": false}}
       }},
      {"data": {"name": "brbox"}, "mark": {"type": "rect", "fill": "#ffffff", "stroke": "#262626", "strokeWidth": 1},
       "encoding": {
        "x": {"field": "x", "type": "quantitative", "scale": {"domain": [1.14, 18.05], "nice": false, "zero": false}, "axis": null},
        "x2": {"field": "x2"},
        "y": {"field": "y", "type": "quantitative", "scale": {"domain": [0.27, 0.49], "nice": false, "zero": false}, "axis": null},
        "y2": {"field": "y2"}
       }},
      {"data": {"name": "brtxt"}, "mark": {"type": "text", "align": "left", "baseline": "middle", "fontSize": 16, "color": "#000000"},
       "encoding": {
        "x": {"field": "x", "type": "quantitative", "scale": {"domain": [1.14, 18.05], "nice": false, "zero": false}, "axis": null},
        "y": {"field": "y", "type": "quantitative", "scale": {"domain": [0.27, 0.49], "nice": false, "zero": false}, "axis": null},
        "text": {"field": "t"}
       }}
    ]
  }
]
}
